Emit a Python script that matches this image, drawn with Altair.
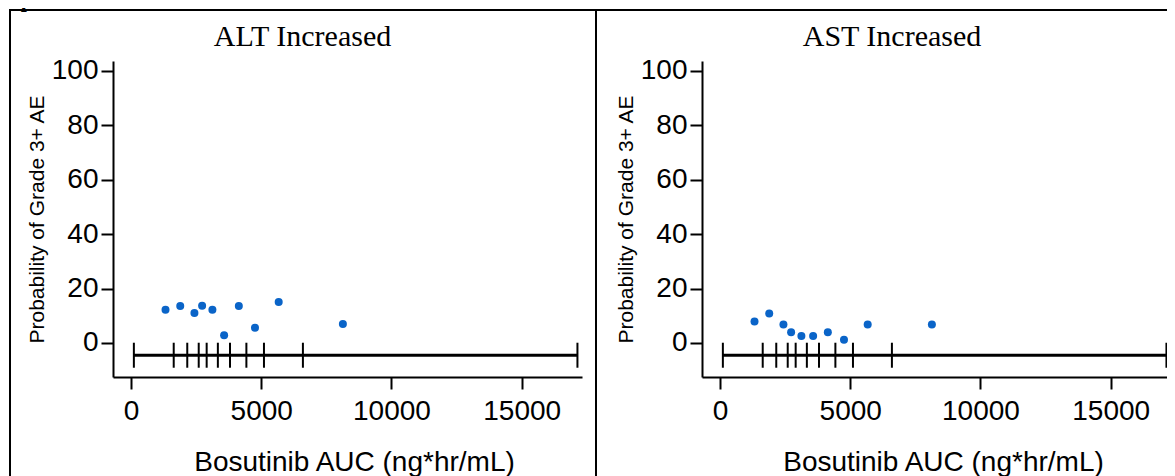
import altair as alt
import pandas as pd

# ---- data ----
auc_bin_mid = [1325, 1890, 2435, 2730, 3125, 3575, 4140, 4760, 5670, 8135]
alt_prob = [12.2, 13.6, 11.0, 13.7, 12.2, 2.8, 13.6, 5.6, 15.1, 7.0]
ast_prob = [7.9, 10.8, 6.8, 3.9, 2.6, 2.6, 3.9, 1.2, 6.8, 6.8]
bin_edges = [110, 1640, 2160, 2600, 2905, 3335, 3800, 4430, 5105, 6600, 17140]
panel_titles = ["ALT Increased", "AST Increased"]
x_ticks = [0, 5000, 10000, 15000]
y_ticks = [0, 20, 40, 60, 80, 100]
caption = "exposure bin."

# ---- style / layout ----
W, H = 469, 316
X_DOMAIN = [-691, 17315]
Y_DOMAIN = [-12.5, 103.6]
BIN_Y = -4.5
BLUE = "#0A64C8"
SANS = "Liberation Sans"
SERIF = "Liberation Serif"


def x_enc(field):
    return alt.X(
        field,
        type="quantitative",
        scale=alt.Scale(domain=X_DOMAIN, nice=False, zero=False),
        axis=alt.Axis(
            values=x_ticks, format="d", title="Bosutinib AUC (ng*hr/mL)",
            titleX=241, titleY=93, titleBaseline="alphabetic", titleAlign="center",
            labelPadding=8, labelFlush=False, labelOverlap=False,
        ),
    )


def y_enc(field):
    return alt.Y(
        field,
        type="quantitative",
        scale=alt.Scale(domain=Y_DOMAIN, nice=False, zero=False),
        axis=alt.Axis(
            values=y_ticks, format="d", title="Probability of Grade 3+ AE",
            titleX=-76, titleBaseline="middle", titleFontSize=21,
            labelPadding=3, labelOverlap=False,
        ),
    )


one = pd.DataFrame({"k": [0]})


def panel(title, probs, box_left, box_right, title_x, with_caption):
    pts = pd.DataFrame({"auc": auc_bin_mid, "prob": probs})
    edges = pd.DataFrame({"edge": bin_edges, "y": [BIN_Y] * len(bin_edges)})
    span = pd.DataFrame({"x1": [bin_edges[0]], "x2": [bin_edges[-1]], "y": [BIN_Y]})

    box = alt.Chart(one).mark_rect(fillOpacity=0, stroke="black", strokeWidth=2).encode(
        x=alt.value(box_left), x2=alt.value(box_right), y=alt.value(-51), y2=alt.value(420)
    )
    head = alt.Chart(one).mark_text(
        text=title, font=SERIF, fontSize=30, color="black",
        align="center", baseline="alphabetic",
    ).encode(x=alt.value(title_x), y=alt.value(-15))
    line = alt.Chart(span).mark_rule(color="black", strokeWidth=3).encode(
        x=x_enc("x1"), x2="x2:Q", y=y_enc("y")
    )
    ticks = alt.Chart(edges).mark_tick(
        orient="vertical", size=25, thickness=2, color="black", opacity=1
    ).encode(x=x_enc("edge"), y=y_enc("y"))
    points = alt.Chart(pts).mark_circle(size=64, color=BLUE, opacity=1).encode(
        x=x_enc("auc"), y=y_enc("prob")
    )
    layers = [box, head, line, ticks, points]
    if with_caption:
        anchor = alt.Chart(one).mark_rect(opacity=0).encode(
            x=alt.value(-130), x2=alt.value(-128), y=alt.value(-90), y2=alt.value(-88)
        )
        cap = alt.Chart(one).mark_text(
            text=caption, font=SERIF, fontSize=22, fontWeight="bold",
            align="left", baseline="alphabetic", color="black",
        ).encode(x=alt.value(-113), y=alt.value(-54))
        layers = [anchor, cap] + layers
    return alt.layer(*layers).properties(width=W, height=H)


left = panel(panel_titles[0], alt_prob, -103, 483, 189.5, True)
right = panel(panel_titles[1], ast_prob, -106, 488, 190, False)

chart = (
    alt.hconcat(left, right, spacing=120, bounds="flush")
    .properties(padding={"left": -25, "top": -37, "right": -24, "bottom": -6})
    .configure_view(stroke=None)
    .configure_axis(
        grid=False,
        domainColor="black", domainWidth=2,
        tickColor="black", tickWidth=2, tickSize=12,
        labelFont=SANS, labelFontSize=28, labelColor="black",
        titleFont=SANS, titleFontSize=28, titleFontWeight="normal", titleColor="black",
    )
)

chart.save("out.html", embed_options={"renderer": "svg", "actions": False})
